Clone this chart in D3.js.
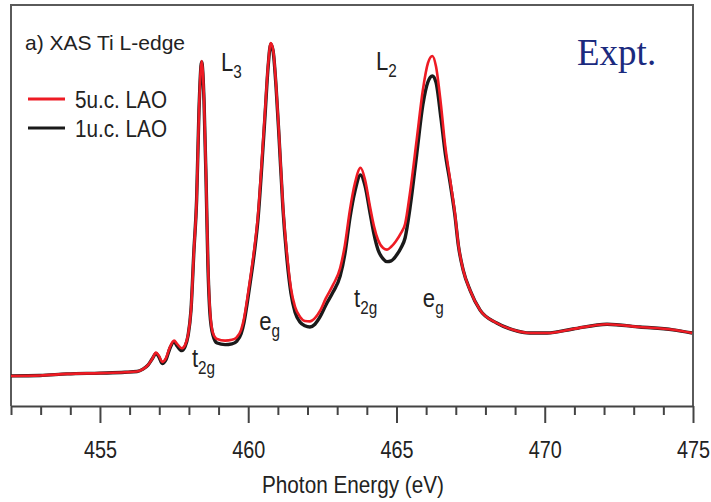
<!DOCTYPE html>
<html>
<head>
<meta charset="utf-8">
<script src="https://cdn.jsdelivr.net/npm/d3@7"></script>
<style>
  body { margin: 0; background: #fff; }
  svg { display: block; }
  text { font-family: "Liberation Sans", Arial, sans-serif; fill: #222; }
</style>
</head>
<body>
<svg id="xas" width="711" height="502"></svg>
<script>
const energy = [
  452.00, 452.98, 453.89, 455.00, 455.84, 456.25, 456.45, 456.62, 456.76, 456.89,
  456.99, 457.10, 457.23, 457.36, 457.50, 457.60, 457.76, 457.87, 457.97, 458.07,
  458.17, 458.26, 458.34, 458.43, 458.51, 458.58, 458.64, 458.71, 458.81, 458.95,
  459.22, 459.45, 459.62, 459.76, 459.86, 459.96, 460.06, 460.20, 460.33, 460.46,
  460.57, 460.67, 460.76, 460.84, 460.94, 461.04, 461.17, 461.31, 461.44, 461.58,
  461.75, 461.91, 462.08, 462.25, 462.42, 462.62, 462.86, 463.10, 463.26, 463.43,
  463.60, 463.79, 463.94, 464.11, 464.24, 464.38, 464.55, 464.68, 464.82, 464.98,
  465.15, 465.29, 465.46, 465.68, 465.89, 466.06, 466.21, 466.33, 466.50, 466.64,
  466.81, 466.97, 467.09, 467.25, 467.48, 467.82, 468.38, 468.93, 469.50, 470.08,
  470.95, 472.10, 473.21, 474.33, 474.97
];

// 5 u.c. LAO (red)
const lao5 = [
  0.075, 0.076, 0.080, 0.082, 0.084, 0.086, 0.092, 0.102, 0.117, 0.133,
  0.125, 0.110, 0.120, 0.147, 0.163, 0.155, 0.144, 0.152, 0.177, 0.239,
  0.389, 0.514, 0.738, 0.860, 0.763, 0.564, 0.364, 0.239, 0.182, 0.167,
  0.163, 0.165, 0.172, 0.190, 0.219, 0.264, 0.314, 0.389, 0.476, 0.613,
  0.738, 0.850, 0.905, 0.888, 0.800, 0.676, 0.501, 0.377, 0.294, 0.247,
  0.222, 0.212, 0.211, 0.219, 0.237, 0.269, 0.302, 0.344, 0.401, 0.489,
  0.556, 0.594, 0.564, 0.496, 0.449, 0.414, 0.394, 0.390, 0.397, 0.411,
  0.431, 0.454, 0.534, 0.663, 0.788, 0.855, 0.873, 0.848, 0.751, 0.651,
  0.564, 0.481, 0.401, 0.339, 0.289, 0.239, 0.207, 0.190, 0.182, 0.182,
  0.192, 0.204, 0.197, 0.190, 0.182
];

// 1 u.c. LAO (black)
const lao1 = [
  0.075, 0.076, 0.080, 0.082, 0.084, 0.086, 0.092, 0.102, 0.117, 0.131,
  0.122, 0.106, 0.116, 0.144, 0.160, 0.150, 0.138, 0.148, 0.175, 0.239,
  0.389, 0.514, 0.738, 0.858, 0.760, 0.558, 0.355, 0.230, 0.177, 0.157,
  0.153, 0.155, 0.162, 0.180, 0.209, 0.254, 0.304, 0.379, 0.466, 0.601,
  0.728, 0.845, 0.903, 0.885, 0.795, 0.670, 0.494, 0.364, 0.282, 0.234,
  0.209, 0.200, 0.197, 0.204, 0.222, 0.252, 0.284, 0.324, 0.379, 0.469,
  0.536, 0.576, 0.549, 0.481, 0.429, 0.389, 0.367, 0.360, 0.362, 0.374,
  0.394, 0.419, 0.496, 0.626, 0.751, 0.808, 0.823, 0.808, 0.718, 0.633,
  0.556, 0.476, 0.399, 0.339, 0.289, 0.239, 0.207, 0.190, 0.182, 0.182,
  0.192, 0.204, 0.197, 0.190, 0.182
];

const tickValues = d3.range(452, 476);
const majorTicks = [455, 460, 465, 470, 475];

const seriesNames = ["5u.c. LAO", "1u.c. LAO"];
const peakLabels = [
  { x: 458.10, y: 0.097, base: "t", sub: "2g" },
  { x: 460.37, y: 0.190, base: "e", sub: "g" },
  { x: 463.57, y: 0.248, base: "t", sub: "2g" },
  { x: 465.89, y: 0.248, base: "e", sub: "g" },
  { x: 459.08, y: 0.836, base: "L", sub: "3" },
  { x: 464.31, y: 0.838, base: "L", sub: "2" }
];

const plotLeft = 11, plotRight = 693, plotTop = 5, plotBottom = 406;

const xScale = d3.scaleLinear([452, 475], [plotLeft, plotRight]);
const yScale = d3.scaleLinear([0, 1], [plotBottom, plotTop]);

const svg = d3.select("#xas");

// squeeze a text to a given width (the figure uses a narrow sans)
function fit(sel, w) {
  sel.attr("textLength", w).attr("lengthAdjust", "spacingAndGlyphs");
}

// frame
svg.append("path")
  .attr("d", `M${plotLeft},${plotBottom} V${plotTop} H${plotRight} V${plotBottom}`)
  .attr("fill", "none")
  .attr("stroke", "#5a5a5a")
  .attr("stroke-width", 2);

const xAxis = d3.axisBottom(xScale)
  .tickValues(tickValues)
  .tickSizeOuter(0)
  .tickSizeInner(17)
  .tickFormat(d => majorTicks.includes(d) ? d : "");

const gx = svg.append("g")
  .attr("transform", `translate(0, ${plotBottom})`)
  .call(xAxis);

gx.select(".domain").attr("stroke", "#444").attr("stroke-width", 2);
gx.selectAll(".tick line")
  .attr("stroke", "#444")
  .attr("stroke-width", 2)
  .attr("y2", d => majorTicks.includes(d) ? 17 : 9);
gx.selectAll(".tick text")
  .filter(d => majorTicks.includes(d))
  .attr("y", 36)
  .attr("font-size", "23px")
  .attr("font-family", null)
  .attr("fill", "#222")
  .call(fit, 33);

svg.append("text")
  .attr("x", 353)
  .attr("y", 493)
  .attr("text-anchor", "middle")
  .attr("font-size", "24px")
  .text("Photon Energy (eV)")
  .call(fit, 182);

const line = d3.line()
  .x(d => xScale(d[0]))
  .y(d => yScale(d[1]))
  .curve(d3.curveMonotoneX);

svg.append("path")
  .datum(d3.zip(energy, lao1))
  .attr("d", line)
  .attr("fill", "none")
  .attr("stroke", "#1a1a1a")
  .attr("stroke-width", 3.4);

svg.append("path")
  .datum(d3.zip(energy, lao5))
  .attr("d", line)
  .attr("fill", "none")
  .attr("stroke", "#ee1b24")
  .attr("stroke-width", 2.6);

// title + legend
svg.append("text")
  .attr("x", 25)
  .attr("y", 50)
  .attr("font-size", "21px")
  .text("a) XAS Ti L-edge")
  .call(fit, 160);

const legendColors = ["#ee1b24", "#1a1a1a"];
seriesNames.forEach((name, i) => {
  const y = 99 + i * 29;
  svg.append("line")
    .attr("x1", 28).attr("x2", 65)
    .attr("y1", y).attr("y2", y)
    .attr("stroke", legendColors[i])
    .attr("stroke-width", 3);
  svg.append("text")
    .attr("x", 75)
    .attr("y", y + 9)
    .attr("font-size", "24px")
    .text(name)
    .call(fit, 92);
});

// peak labels
peakLabels.forEach(p => {
  const t = svg.append("text")
    .attr("transform", `translate(${xScale(p.x)},${yScale(p.y)}) scale(0.85,1)`)
    .attr("font-size", "26px")
    .text(p.base);
  t.append("tspan")
    .attr("font-size", "18px")
    .attr("dy", 7)
    .text(p.sub);
});

svg.append("text")
  .attr("x", 577)
  .attr("y", 65)
  .attr("font-size", "37px")
  .style("font-family", "'Liberation Serif', serif")
  .style("fill", "#1b2a7e")
  .text("Expt.");
</script>
</body>
</html>
